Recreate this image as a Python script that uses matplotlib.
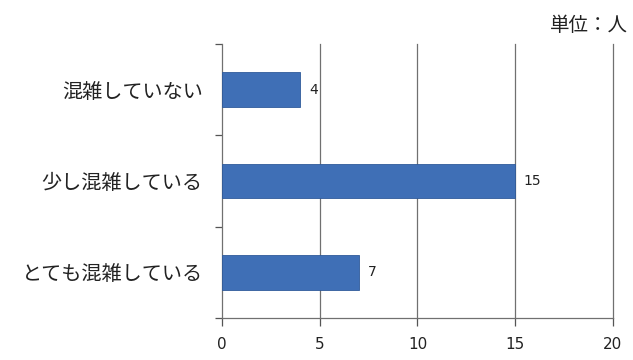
import matplotlib.pyplot as plt
from matplotlib.ticker import FixedLocator, NullFormatter

plt.rcParams['font.family'] = ['Noto Sans CJK JP', 'DejaVu Sans']

# bottom to top
categories = ['とても混雑している', '少し混雑している', '混雑していない']
counts = [7, 15, 4]
x_ticks = [0, 5, 10, 15, 20]

fig = plt.figure(figsize=(6.33, 3.6), dpi=100)
ax = fig.add_axes([0.351, 0.117, 0.617, 0.761])

pos = list(range(len(categories)))
ax.barh(pos, counts, height=0.38, color='#3f6fb6', edgecolor='#2f5a9a',
        linewidth=0.6, zorder=3)
for y, v in zip(pos, counts):
    ax.text(v + 0.45, y, str(v), va='center', ha='left', fontsize=10,
            color='#222222', family=['DejaVu Sans'], zorder=4)

ax.set_xlim(0, 20)
ax.set_ylim(-0.5, len(categories) - 0.5)
ax.set_xticks(x_ticks)
ax.set_xticklabels([str(t) for t in x_ticks], fontsize=11,
                   family=['DejaVu Sans'], color='#222222')
ax.set_yticks(pos)
ax.set_yticklabels(categories, fontsize=14.5, color='#222222')
ax.tick_params(axis='y', length=0, pad=14)
ax.yaxis.set_minor_locator(FixedLocator([-0.5, 0.5, 1.5, 2.5]))
ax.yaxis.set_minor_formatter(NullFormatter())
ax.tick_params(axis='y', which='minor', length=5, color='#555555', width=0.9)
ax.tick_params(axis='x', length=6, color='#555555', width=0.9, pad=8)

# vertical gridlines, the last one sits on the right edge
for t in x_ticks[1:]:
    ax.axvline(t, color='#707070', linewidth=0.9, zorder=0, clip_on=False)
for side in ['top', 'right']:
    ax.spines[side].set_visible(False)
for side in ['left', 'bottom']:
    ax.spines[side].set_color('#707070')
    ax.spines[side].set_linewidth(0.9)

fig.text(0.992, 0.93, '単位：人', ha='right', va='center', fontsize=14,
         color='#222222')

fig.savefig('out.png', dpi=100)
